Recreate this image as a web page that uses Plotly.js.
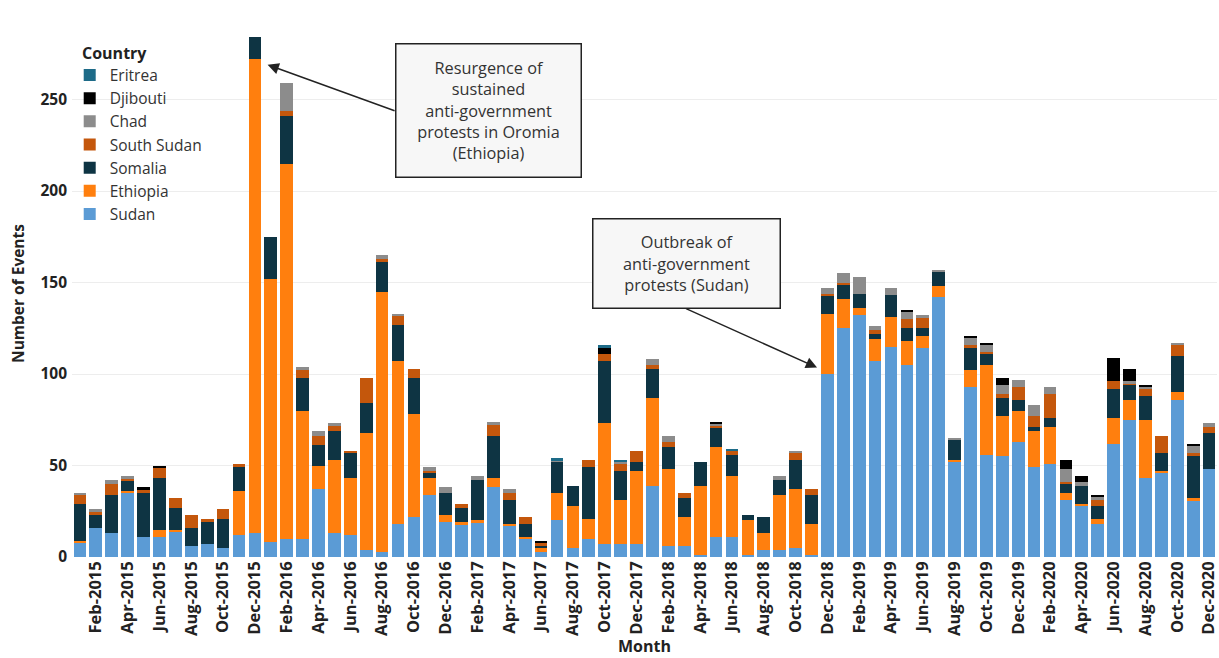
<!DOCTYPE html>
<html>
<head>
<meta charset="utf-8">
<script src="https://cdn.plot.ly/plotly-3.0.1.min.js"></script>
<style>html,body{margin:0;padding:0;background:#fff;}#chart{width:1219px;height:658px;}</style>
</head>
<body>
<div id="chart"></div>
<script>
const monthNames = ["Jan","Feb","Mar","Apr","May","Jun","Jul","Aug","Sep","Oct","Nov","Dec"];
const years = [2015,2016,2017,2018,2019,2020];
const months = [];
years.forEach(y => monthNames.forEach(m => months.push(m + "-" + y)));
const tickLabels = months.filter((m, i) => i % 2 === 1);

const sudan = [8,16,13,35,11,11,14,6,7,5,12,13, 8,10,10,37,13,12,4,3,18,22,34,19, 18,19,38,17,10,3,20,5,10,7,7,7, 39,6,6,1,11,11,1,4,4,5,1,100, 125,132,107,115,105,114,142,52,93,56,55,63, 49,51,31,28,18,62,75,43,46,86,31,48];
const ethiopia = [1,0,0,1,0,4,1,0,0,0,24,259, 144,205,70,13,40,31,64,142,89,56,9,4, 1,1,5,1,1,2,15,23,11,66,24,40, 48,42,16,38,49,33,19,9,30,32,17,33, 16,4,12,16,13,7,6,1,9,49,22,17, 20,20,4,1,3,14,11,32,1,4,1,0];
const somalia = [20,7,21,6,24,28,12,10,12,16,13,12, 23,26,18,11,16,14,16,16,20,20,3,12, 8,22,23,13,7,1,17,11,28,34,16,5, 16,12,10,13,11,12,3,9,8,16,16,10, 8,8,3,12,7,4,8,11,12,6,10,6, 2,5,5,10,7,16,8,13,10,20,23,20];
const southSudan = [5,2,6,1,2,6,5,7,2,5,2,0, 0,3,4,5,3,1,14,2,5,5,1,0, 2,0,6,4,4,2,0,0,4,4,4,6, 2,3,3,0,1,2,0,0,0,4,3,1, 1,0,2,0,5,6,0,0,2,1,2,7, 6,13,1,0,3,4,1,4,9,6,2,3];
const chad = [1,1,2,1,0,0,0,0,0,0,0,0, 0,15,2,3,1,0,0,2,1,0,2,3, 0,2,2,2,0,0,1,0,0,0,1,0, 3,3,0,0,1,0,0,0,2,1,0,3, 5,9,2,4,4,1,1,1,4,4,5,4, 6,4,7,2,2,0,1,1,0,1,4,2];
const djibouti = [0,0,0,0,1,1,0,0,0,0,0,0, 0,0,0,0,0,0,0,0,0,0,0,0, 0,0,0,0,0,1,0,0,0,3,0,0, 0,0,0,0,1,0,0,0,0,0,0,0, 0,0,0,0,1,0,0,0,1,1,4,0, 0,0,5,3,1,13,7,1,0,0,1,0];
const eritrea = [0,0,0,0,0,0,0,0,0,0,0,0, 0,0,0,0,0,0,0,0,0,0,0,0, 0,0,0,0,0,0,1,0,0,2,1,0, 0,0,0,0,0,1,0,0,0,0,0,0, 0,0,0,0,0,0,0,0,0,0,0,0, 0,0,0,0,0,0,0,0,0,0,0,0];

const seriesNames = ["Sudan","Ethiopia","Somalia","South Sudan","Chad","Djibouti","Eritrea"];
const seriesValues = [sudan, ethiopia, somalia, southSudan, chad, djibouti, eritrea];
const seriesColors = ["#5b9bd5","#ff7f0e","#0e3443","#c4570c","#8c8c8c","#000000","#1d6b88"];

const traces = seriesNames.map((n, k) => ({
  type: "bar",
  name: n,
  x: months,
  y: seriesValues[k],
  marker: {color: seriesColors[k], line: {width: 0}},
  hovertemplate: "%{x}<br>" + n + ": %{y}<extra></extra>"
}));

const FONT = "Open Sans, Noto Sans, sans-serif";

const layout = {
  width: 1219, height: 658,
  barmode: "stack",
  bargap: 0.2,
  paper_bgcolor: "#ffffff",
  plot_bgcolor: "#ffffff",
  font: {family: FONT, color: "#222", size: 14},
  margin: {l: 72, r: 2, t: 30, b: 101},
  showlegend: true,
  legend: {
    x: -0.002, y: 0.946, xanchor: "left", yanchor: "top",
    traceorder: "reversed",
    bgcolor: "rgba(255,255,255,0)",
    font: {size: 15.5, color: "#333", family: FONT},
    itemsizing: "constant",
    tracegroupgap: 0
  },
  xaxis: {
    type: "category",
    categoryorder: "array",
    categoryarray: months,
    tickmode: "array",
    tickvals: tickLabels,
    ticktext: tickLabels.map(t => "<b>" + t + "</b>"),
    tickangle: -90,
    tickfont: {size: 16.5, color: "#222", family: FONT},
    showgrid: false,
    zeroline: false,
    showline: false,
    ticks: "",
    title: {text: "<b>Month</b>", font: {size: 16, color: "#222", family: FONT}, standoff: 5}
  },
  yaxis: {
    range: [0, 288],
    tickmode: "array",
    tickvals: [0,50,100,150,200,250],
    ticktext: ["<b>0</b>","<b>50</b>","<b>100</b>","<b>150</b>","<b>200</b>","<b>250</b>"],
    tickfont: {size: 15.5, color: "#222", family: FONT},
    ticklabelstandoff: 4,
    showgrid: true,
    gridcolor: "#ededed",
    gridwidth: 1,
    zeroline: false,
    showline: false,
    ticks: "",
    title: {text: "<b>Number of Events</b>", font: {size: 15.5, color: "#222", family: FONT}, standoff: 11}
  },
  annotations: [
    {
      x: 80, y: 53, xref: "paper", yref: "paper",
      text: "<b>Country</b>", showarrow: false,
      font: {size: 16, color: "#222", family: FONT}
    },
    {
      x: 11.8, y: 269, xref: "x", yref: "y",
      text: "Resurgence of<br>sustained<br>anti-government<br>protests in Oromia<br>(Ethiopia)",
      showarrow: true, arrowhead: 2, arrowsize: 1.5, arrowwidth: 1.5, arrowcolor: "#222",
      ax: 127, ay: 46, xanchor: "left", yanchor: "middle",
      font: {size: 16.3, color: "#333", family: FONT},
      bgcolor: "#f7f7f7", bordercolor: "#222", borderwidth: 1.5,
      width: 172, height: 120, borderpad: 6
    },
    {
      x: 46.35, y: 103.5, xref: "x", yref: "y",
      text: "Outbreak of<br>anti-government<br>protests (Sudan)",
      showarrow: true, arrowhead: 2, arrowsize: 1.5, arrowwidth: 1.5, arrowcolor: "#222",
      ax: -131, ay: -59, xanchor: "center", yanchor: "bottom",
      font: {size: 16.3, color: "#333", family: FONT},
      bgcolor: "#f7f7f7", bordercolor: "#222", borderwidth: 1.5,
      width: 174, height: 76, borderpad: 6
    }
  ]
};
// place the "Country" heading in paper coordinates from its pixel spot
const plotW = layout.width - layout.margin.l - layout.margin.r;
const plotH = layout.height - layout.margin.t - layout.margin.b;
layout.annotations[0].x = (80 - layout.margin.l) / plotW;
layout.annotations[0].y = 1 - (53 - layout.margin.t) / plotH;
layout.annotations[0].xanchor = "left";
layout.annotations[0].yanchor = "middle";

Plotly.newPlot("chart", traces, layout, {displayModeBar: false, responsive: false});
</script>
</body>
</html>
